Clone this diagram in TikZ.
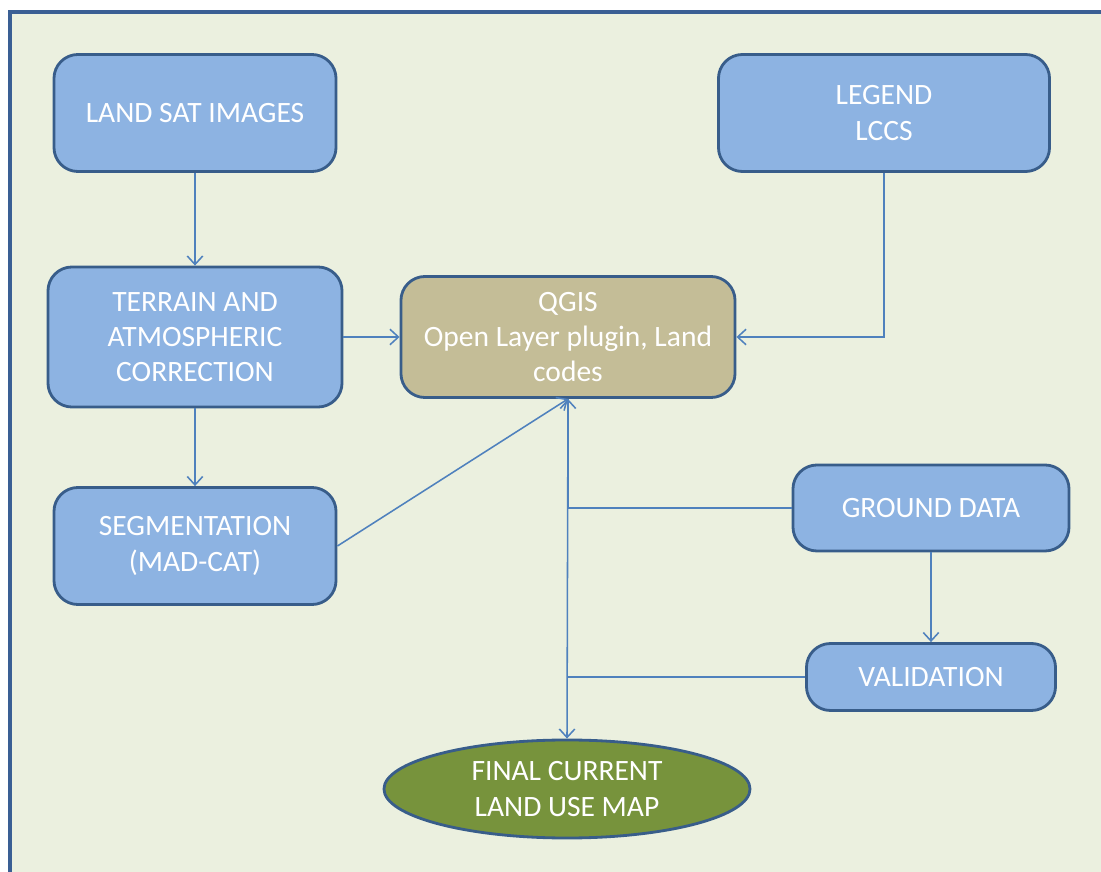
\documentclass[tikz,border=0pt]{standalone}
\usepackage{fontspec}
\setmainfont{Carlito}
\usepackage{tikz}
\usetikzlibrary{arrows.meta,positioning,shapes.geometric}
\definecolor{PanelBG}{HTML}{EBF0DF}
\definecolor{PanelFrame}{HTML}{3A5F94}
\definecolor{BoxBG}{HTML}{8DB3E2}
\definecolor{BoxFrame}{HTML}{385D8A}
\definecolor{ToolBG}{HTML}{C4BD97}
\definecolor{MapBG}{HTML}{77933C}
\definecolor{LinkCol}{HTML}{4F81BD}

\begin{document}
\begin{tikzpicture}[x=0.025cm, y=-0.025cm,
    every node/.style={font=\fontsize{21}{25}\selectfont, text=white, align=center},
    stagebox/.style={draw=BoxFrame, line width=2pt, fill=BoxBG, rounded corners=0.6cm},
    toolbox/.style={stagebox, fill=ToolBG},
    mapnode/.style={draw=BoxFrame, line width=2pt, fill=MapBG, ellipse, inner sep=0pt},
    link/.style={draw=LinkCol, line width=1.1pt},
    arr/.style={link, -{Straight Barb[length=6pt, width=11pt, line width=1.1pt]}}]
  \useasboundingbox (0,0) rectangle (1101,872);
  \fill[white] (0,0) rectangle (1101,872);
  \draw[PanelFrame, line width=2.2pt, fill=PanelBG] (10,12) rectangle (1130,900);

  % stages
  \node[stagebox, minimum width=7.05cm, minimum height=2.925cm]
    (landsat) at (195,113) {LAND SAT IMAGES};
  \node[stagebox, minimum width=8.275cm, minimum height=2.925cm]
    (legend) at (884,113) {LEGEND\\LCCS};
  \node[stagebox, minimum width=7.35cm, minimum height=3.5cm]
    (terrain) at (195,337) {TERRAIN AND\\ATMOSPHERIC\\CORRECTION};
  \node[toolbox, minimum width=8.35cm, minimum height=3.025cm]
    (qgis) at (568,337) {QGIS\\Open Layer plugin, Land\\codes};
  \node[stagebox, minimum width=7.05cm, minimum height=2.925cm]
    (segment) at (195,546) {SEGMENTATION\\(MAD-CAT)};
  \node[stagebox, minimum width=6.9cm, minimum height=2.15cm]
    (ground) at (931,508) {GROUND DATA};
  \node[stagebox, minimum width=6.225cm, minimum height=1.675cm]
    (valid) at (931,677) {VALIDATION};
  \node[mapnode, minimum width=9.15cm, minimum height=2.45cm]
    (final) at (567,789) {FINAL CURRENT\\LAND USE MAP};

  % connectors
  \draw[arr] (landsat) -- (terrain);
  \draw[arr] (terrain) -- (segment);
  \draw[arr] (terrain) -- (qgis);
  \draw[arr] (legend.south) |- (qgis.east);
  \draw[arr] (segment.east) -- (qgis.south);
  \draw[arr] (ground.west) -| (qgis.south);
  \draw[arr] (qgis.south) -- (final.north);
  \draw[link] (valid.west) -- (valid.west -| qgis.south);
  \draw[arr] (ground) -- (valid);
\end{tikzpicture}
\end{document}
